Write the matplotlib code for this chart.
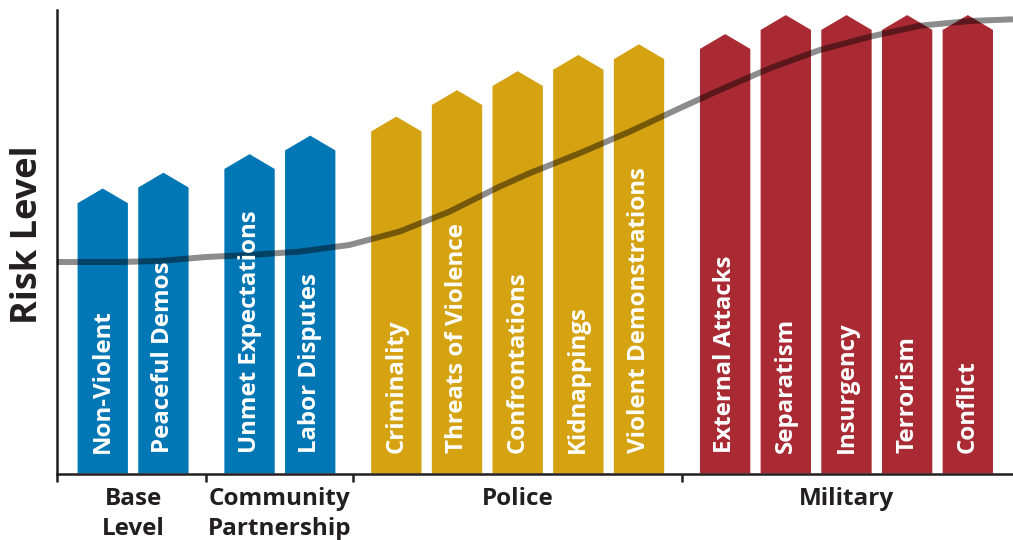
import matplotlib
matplotlib.use("Agg")
import matplotlib.pyplot as plt
from matplotlib.patches import Polygon

# ---------------- data ----------------
categories = ["Non-Violent", "Peaceful Demos",
              "Unmet Expectations", "Labor Disputes",
              "Criminality", "Threats of Violence", "Confrontations",
              "Kidnappings", "Violent Demonstrations",
              "External Attacks", "Separatism", "Insurgency",
              "Terrorism", "Conflict"]
risk_values = [61.5, 64.9, 68.9, 72.9, 77.0, 82.7, 86.8, 90.3, 92.6,
               94.8, 98.9, 98.9, 98.9, 98.9]
group_names = ["Base\nLevel", "Community\nPartnership", "Police", "Military"]
group_sizes = [2, 2, 5, 5]
group_colors = ["#0277b6", "#0277b6", "#d5a211", "#a92a33"]

# trend curve (x in bar-slot units, y in risk units)
curve_x = [-0.754, 0.269, 0.929, 1.705, 2.414, 3.239, 4.064, 4.889, 5.714,
           6.540, 7.035, 7.860, 8.685, 9.510, 10.170, 10.995, 11.820,
           12.645, 13.470, 14.295, 15.005]
curve_y = [45.63, 45.63, 45.85, 46.71, 47.14, 47.86, 49.30, 52.18, 56.49,
           61.89, 64.78, 69.09, 73.75, 78.80, 82.74, 87.42, 91.37,
           94.24, 96.61, 97.63, 97.99]

# ---------------- style ----------------
plt.rcParams["font.family"] = ["Open Sans", "DejaVu Sans"]
TEXT = "#231f20"
GAP = 0.42      # extra space between groups (slot units)
WIDTH = 0.83    # bar width
TIP = 3.2       # arrow-tip height (risk units)

fig = plt.figure(figsize=(10.13, 5.40), dpi=100)
ax = fig.add_axes([57 / 1013, 1 - 473.5 / 540, 1 - 57 / 1013, 463.5 / 540])

# positions
xs, colors = [], []
i = 0
for g, n in enumerate(group_sizes):
    for _ in range(n):
        xs.append(i + GAP * g)
        colors.append(group_colors[g])
        i += 1

for x, v, c, name in zip(xs, risk_values, colors, categories):
    h = WIDTH / 2
    poly = Polygon([(x - h, 0), (x - h, v - TIP), (x, v), (x + h, v - TIP), (x + h, 0)],
                   closed=True, facecolor=c, edgecolor="none", zorder=2)
    ax.add_patch(poly)
    ax.text(x, 4.4, name, rotation=90, ha="center", va="bottom", color="white",
            fontsize=17.3, fontweight="bold", zorder=5)

ax.plot(curve_x, curve_y, color="black", alpha=0.45, lw=4.3,
        solid_capstyle="butt", solid_joinstyle="round", zorder=4, clip_on=False)

# group boundaries and labels
bounds = []
start = 0
for g, n in enumerate(group_sizes):
    gx = xs[start:start + n]
    center = sum(gx) / len(gx)
    ax.text(center, -3.0, group_names[g], ha="center", va="top", fontsize=17.5,
            fontweight="bold", color=TEXT, linespacing=1.32, clip_on=False)
    if start > 0:
        bounds.append((xs[start - 1] + xs[start]) / 2)
    start += n

ax.set_xlim(-0.754, 15.005)
ax.set_ylim(0, 100)
ax.set_xticks([-0.754] + bounds)
ax.set_xticklabels([])
ax.set_yticks([])
ax.tick_params(axis="x", direction="out", length=6, width=1.8, color=TEXT)
for s in ["top", "right"]:
    ax.spines[s].set_visible(False)
for s in ["left", "bottom"]:
    ax.spines[s].set_linewidth(1.8)
    ax.spines[s].set_color(TEXT)

fig.text(28 / 1013, 1 - 234.5 / 540, "Risk Level", rotation=90, ha="center",
         va="center", fontsize=26, fontweight="bold", color=TEXT)

fig.savefig("out.png", dpi=100)
